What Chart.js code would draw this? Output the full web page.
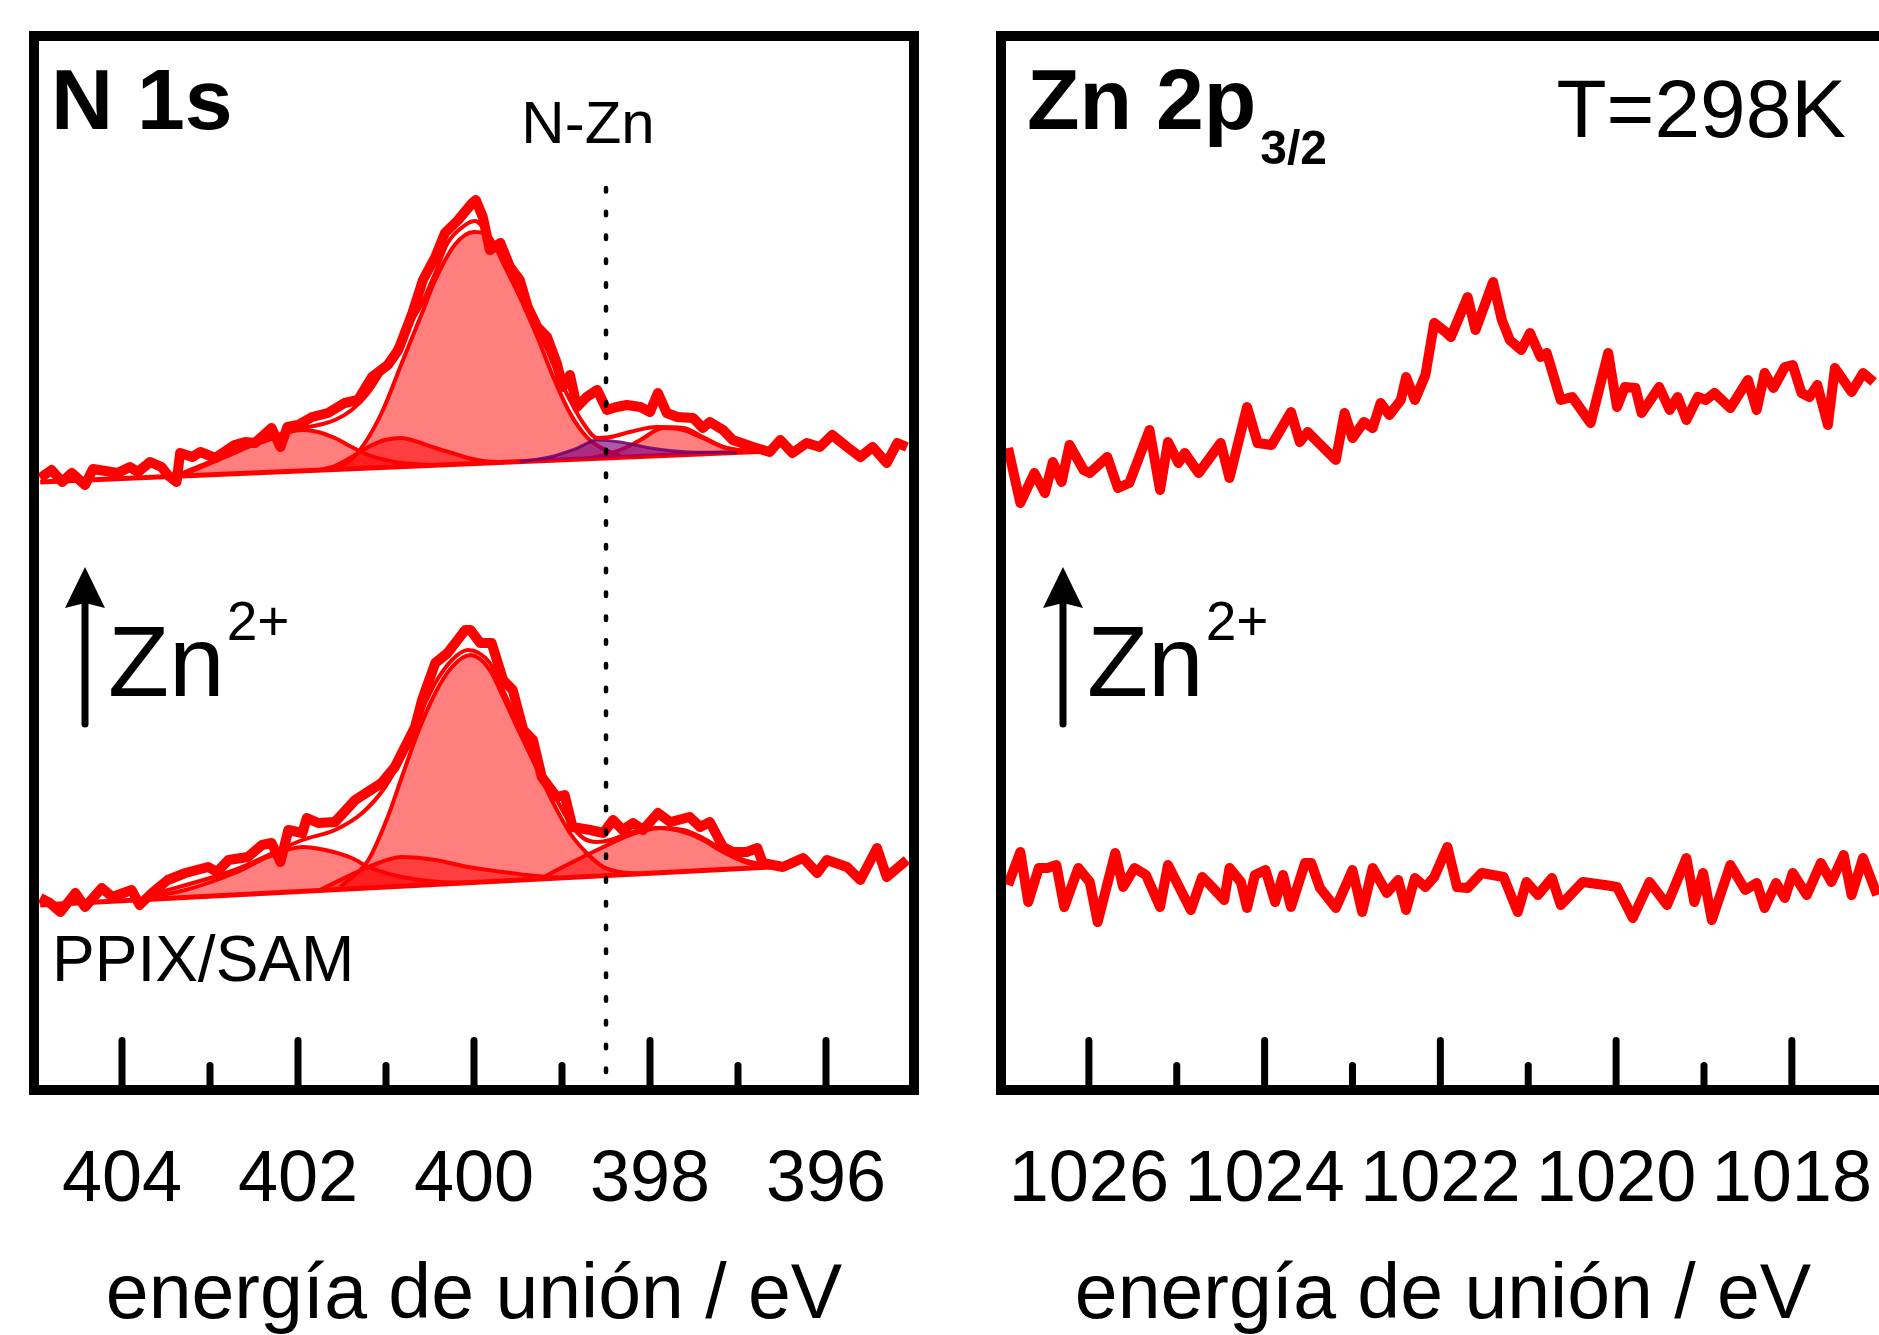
<!DOCTYPE html>
<html>
<head>
<meta charset="utf-8">
<script src="https://cdn.jsdelivr.net/npm/chart.js@4.4.1/dist/chart.umd.min.js"></script>
<style>
  html, body { margin: 0; padding: 0; background: #fff; overflow: hidden; }
  body { width: 1879px; height: 1335px; position: relative; }
  canvas { position: absolute; top: 0; }
  #n1s { left: 0; }
  #zn2p { left: 960px; }
</style>
</head>
<body>
<canvas id="n1s" width="960" height="1335"></canvas>
<canvas id="zn2p" width="980" height="1335"></canvas>
<script>
// ---- datos: [energia de union (eV), intensidad (u.a.)] ----

// N 1s despues de Zn2+ (espectro de arriba)
var n1sZnRaw = [[404.93,61.2],[404.80,62.0],[404.68,60.8],[404.57,61.7],[404.42,60.5],[404.33,62.1],[404.05,61.7],[403.91,62.3],[403.82,61.8],[403.68,62.8],[403.55,62.3],[403.48,61.5],[403.38,60.8],[403.34,63.7],[403.20,63.3],[403.11,63.8],[402.94,63.2],[402.72,64.5],[402.60,64.8],[402.49,64.7],[402.30,66.2],[402.20,64.3],[402.12,66.3],[402.00,66.5],[401.84,67.3],[401.66,67.7],[401.47,68.7],[401.32,69.0],[401.16,71.3],[400.98,72.5],[400.86,74.0],[400.70,77.7],[400.58,81.0],[400.44,83.3],[400.33,85.7],[400.18,87.0],[400.02,88.7],[399.98,89.0],[399.90,87.3],[399.82,84.0],[399.70,84.7],[399.59,82.3],[399.48,81.0],[399.39,78.3],[399.28,76.3],[399.17,75.3],[399.06,72.7],[398.99,70.3],[398.91,71.5],[398.83,68.3],[398.72,69.3],[398.60,70.0],[398.49,68.0],[398.38,68.3],[398.26,68.5],[398.11,68.3],[398.00,67.8],[397.91,69.7],[397.81,67.7],[397.69,67.3],[397.51,67.2],[397.40,66.2],[397.32,66.8],[397.17,66.0],[397.06,65.0],[396.83,64.3],[396.64,63.8],[396.52,65.0],[396.38,63.7],[396.22,64.7],[396.07,64.3],[395.93,65.5],[395.76,64.3],[395.61,63.3],[395.47,64.3],[395.31,62.7],[395.19,64.7],[395.08,64.3]];
var n1sZnEnvelope = [[403.34,61.6],[402.72,63.8],[402.34,65.0],[401.95,66.2],[401.77,66.5],[401.58,67.0],[401.39,68.0],[401.20,69.7],[401.01,72.3],[400.82,75.3],[400.70,77.0],[400.59,78.7],[400.44,81.7],[400.30,84.7],[400.10,86.5],[399.99,86.9],[399.85,85.7],[399.67,83.0],[399.48,80.0],[399.28,76.0],[399.17,74.0],[399.06,71.7],[398.91,69.0],[398.76,66.7],[398.60,65.2],[398.45,65.3],[398.23,65.8],[397.92,66.3],[397.62,66.2],[397.40,65.3],[397.17,64.3],[397.01,64.0],[396.75,63.9]];
var n1sZnMain = [[401.64,62.1],[401.41,62.9],[401.24,64.7],[401.05,67.7],[400.82,72.7],[400.59,77.7],[400.44,81.0],[400.22,84.5],[400.00,85.8],[399.82,85.3],[399.67,82.7],[399.48,79.3],[399.28,75.3],[399.10,71.3],[398.91,67.7],[398.72,65.3],[398.57,64.3],[398.34,63.4]];
var n1sZnHigh = [[403.34,61.4],[402.72,63.7],[402.34,65.2],[401.95,66.0],[401.77,65.8],[401.58,65.2],[401.39,64.3],[401.20,63.5],[401.01,63.0],[400.82,62.7],[400.50,62.5]];
var n1sZnMid = [[401.75,62.0],[401.58,62.4],[401.35,63.5],[401.20,64.3],[401.01,65.0],[400.82,65.2],[400.64,64.8],[400.44,64.2],[400.25,63.7],[400.07,63.2],[399.85,62.85],[399.59,62.8]];
var n1sZnLow = [[398.65,63.2],[398.34,64.0],[398.11,65.0],[397.85,66.2],[397.62,66.0],[397.40,65.2],[397.17,64.3],[397.01,64.0],[396.75,63.86]];
var n1sZnNZn = [[399.48,62.84],[399.14,63.3],[398.85,64.1],[398.60,65.0],[398.34,64.8],[398.00,64.2],[397.55,63.8],[397.01,63.76]];
var n1sZnBackground = [[404.93,60.8],[396.64,63.9]];

// N 1s PPIX/SAM (espectro de abajo)
var n1sSamRaw = [[404.93,19.2],[404.82,18.7],[404.70,17.8],[404.53,19.7],[404.42,18.3],[404.23,20.2],[404.11,19.3],[403.89,20.0],[403.80,18.5],[403.66,19.7],[403.48,21.0],[403.28,21.7],[403.02,22.3],[402.92,21.8],[402.79,23.0],[402.57,23.3],[402.41,24.5],[402.30,24.7],[402.20,22.8],[402.11,26.0],[401.95,25.7],[401.90,27.2],[401.77,26.7],[401.58,26.8],[401.35,29.0],[401.05,30.7],[400.90,32.3],[400.67,36.3],[400.59,39.0],[400.44,42.7],[400.30,43.7],[400.10,46.0],[400.04,46.0],[399.93,44.7],[399.80,44.7],[399.67,41.0],[399.56,40.0],[399.44,36.0],[399.33,35.0],[399.23,31.3],[399.06,29.3],[398.97,29.5],[398.88,26.3],[398.68,26.0],[398.53,25.7],[398.42,27.0],[398.31,26.0],[398.19,26.7],[398.08,26.0],[397.91,27.7],[397.77,26.8],[397.55,27.3],[397.43,26.3],[397.32,26.8],[397.17,24.3],[397.06,23.8],[396.90,23.8],[396.78,24.2],[396.72,22.7],[396.49,22.3],[396.26,23.2],[396.10,21.7],[395.99,23.0],[395.76,22.3],[395.61,21.0],[395.42,24.2],[395.31,21.3],[395.08,23.0]];
var n1sSamEnvelope = [[403.68,19.5],[402.72,22.0],[401.95,25.0],[401.58,26.0],[401.27,27.7],[401.01,30.3],[400.82,33.3],[400.70,35.7],[400.59,38.0],[400.44,40.7],[400.25,43.0],[400.07,44.0],[399.82,42.7],[399.67,40.0],[399.48,36.3],[399.28,32.7],[399.10,29.7],[398.91,26.7],[398.76,25.2],[398.60,24.8],[398.45,25.0],[398.23,25.7],[397.92,26.2],[397.62,26.0],[397.40,25.2],[397.17,24.0],[396.94,23.0],[396.64,22.4]];
var n1sSamMain = [[401.52,20.3],[401.20,23.0],[400.98,27.3],[400.82,31.3],[400.64,35.7],[400.44,39.7],[400.25,42.3],[400.04,43.5],[399.82,42.0],[399.67,39.3],[399.48,35.7],[399.28,32.0],[399.10,28.7],[398.91,25.7],[398.72,23.7],[398.53,22.3],[398.34,21.8],[398.11,21.62]];
var n1sSamHigh = [[403.68,19.3],[403.28,20.0],[402.72,21.7],[402.34,23.3],[401.95,24.3],[401.69,24.0],[401.39,23.2],[401.20,22.3],[400.82,21.3],[400.39,20.8],[400.04,20.74]];
var n1sSamMid = [[401.75,20.0],[401.20,22.3],[400.82,23.3],[400.44,23.0],[400.07,22.3],[399.67,21.8],[399.40,21.5],[399.02,21.21]];
var n1sSamLow = [[399.25,21.1],[398.99,22.3],[398.53,24.3],[398.23,25.5],[397.89,26.2],[397.58,25.7],[397.40,25.0],[397.17,23.8],[396.92,22.8],[396.64,22.3]];
var n1sSamBackground = [[404.93,18.5],[396.41,22.4]];

// Zn 2p3/2
var zn2pZnRaw = [[1026.92,64.2],[1026.78,58.7],[1026.62,61.7],[1026.50,59.7],[1026.41,62.8],[1026.31,60.8],[1026.22,64.5],[1026.06,62.0],[1025.99,61.7],[1025.79,63.3],[1025.67,60.2],[1025.54,60.7],[1025.31,66.0],[1025.19,60.0],[1025.10,64.8],[1024.98,62.7],[1024.91,63.7],[1024.75,61.7],[1024.50,64.7],[1024.40,61.2],[1024.20,68.3],[1024.08,64.7],[1023.92,64.5],[1023.70,67.8],[1023.60,64.8],[1023.51,65.8],[1023.19,63.0],[1023.09,67.7],[1023.00,65.2],[1022.87,66.8],[1022.77,66.2],[1022.68,68.7],[1022.58,67.5],[1022.45,69.0],[1022.39,71.3],[1022.29,69.0],[1022.17,71.5],[1022.07,76.7],[1021.94,75.8],[1021.88,75.3],[1021.69,79.3],[1021.60,76.0],[1021.40,80.8],[1021.30,77.0],[1021.21,75.0],[1021.08,74.0],[1020.98,75.7],[1020.86,73.3],[1020.79,73.7],[1020.63,69.0],[1020.50,69.3],[1020.29,66.7],[1020.09,73.7],[1019.99,68.3],[1019.90,70.3],[1019.78,70.2],[1019.71,67.7],[1019.51,70.3],[1019.39,68.0],[1019.30,69.3],[1019.20,67.0],[1019.07,69.3],[1018.98,69.0],[1018.88,69.7],[1018.70,68.2],[1018.50,71.0],[1018.40,68.0],[1018.31,71.7],[1018.21,70.2],[1018.08,72.3],[1017.99,72.5],[1017.89,69.7],[1017.80,69.3],[1017.71,70.5],[1017.59,66.5],[1017.51,72.2],[1017.32,69.8],[1017.19,71.7],[1017.07,70.8]];
var zn2pSamRaw = [[1026.92,20.5],[1026.78,23.8],[1026.69,18.8],[1026.57,22.2],[1026.47,22.2],[1026.37,22.5],[1026.28,18.3],[1026.12,22.2],[1025.99,20.8],[1025.90,16.8],[1025.70,23.7],[1025.61,20.3],[1025.48,22.2],[1025.35,21.5],[1025.19,18.3],[1025.10,22.5],[1024.84,18.0],[1024.71,21.3],[1024.62,20.5],[1024.46,19.0],[1024.40,22.2],[1024.27,20.8],[1024.20,18.2],[1024.11,21.5],[1023.99,22.0],[1023.88,18.8],[1023.79,21.5],[1023.70,18.3],[1023.54,22.7],[1023.47,22.7],[1023.37,20.2],[1023.19,18.2],[1023.00,22.0],[1022.89,17.8],[1022.77,22.2],[1022.61,19.7],[1022.48,21.0],[1022.39,18.0],[1022.29,21.2],[1022.17,20.3],[1022.07,21.3],[1021.92,24.3],[1021.81,20.3],[1021.69,20.2],[1021.53,21.7],[1021.28,21.3],[1021.12,17.8],[1021.02,20.8],[1020.89,19.5],[1020.73,21.2],[1020.63,18.5],[1020.38,20.8],[1020.13,20.5],[1019.99,20.3],[1019.81,17.2],[1019.62,20.8],[1019.42,18.5],[1019.20,23.2],[1019.11,18.8],[1019.01,21.7],[1018.91,17.0],[1018.70,22.5],[1018.53,20.0],[1018.40,20.7],[1018.31,18.2],[1018.18,20.7],[1018.08,19.2],[1017.99,21.7],[1017.83,19.5],[1017.67,22.7],[1017.55,20.8],[1017.41,23.5],[1017.32,19.5],[1017.19,23.2],[1017.03,19.5]];

var n1sTickLabels = [404, 402, 400, 398, 396];
var zn2pTickLabels = [1026, 1024, 1022, 1020, 1018];
var nZnEnergy = 398.5;

// ---- estilo ----
var RED = '#ff0000';
var SALMON = 'rgba(255, 0, 0, 0.5)';
var FONT = '"Liberation Sans", Arial, Helvetica, sans-serif';
Chart.defaults.font.family = FONT;
Chart.defaults.color = '#000';

function pts(arr) {
  return arr.map(function (p) { return {x: p[0], y: p[1]}; });
}
function rawLine(arr) {
  return {data: pts(arr), borderColor: RED, borderWidth: 10, pointRadius: 0, fill: false, borderJoinStyle: 'round'};
}
function fitLine(arr) {
  return {data: pts(arr), borderColor: RED, borderWidth: 4, pointRadius: 0, fill: false, cubicInterpolationMode: 'monotone'};
}
function bgLine(arr) {
  return {data: pts(arr), borderColor: RED, borderWidth: 5, pointRadius: 0, fill: false};
}
function component(arr, target, color, line) {
  return {data: pts(arr), borderColor: line || RED, borderWidth: line ? 3 : 4, pointRadius: 0,
    fill: {target: target}, backgroundColor: color || SALMON, cubicInterpolationMode: 'monotone'};
}

function xAxis(min, max, labels) {
  return {
    type: 'linear', reverse: true, min: min, max: max,
    grid: {display: false, drawTicks: false},
    border: {display: false},
    ticks: {
      stepSize: 1, autoSkip: false, maxRotation: 0, minRotation: 0, includeBounds: false,
      padding: 55, color: '#000', font: {size: 72, lineHeight: 1},
      callback: function (v) { return labels.indexOf(v) >= 0 ? String(v) : ''; }
    },
    title: {display: true, text: 'energía de unión / eV', color: '#000',
      font: {size: 77, lineHeight: 1}, padding: {top: 0, bottom: 0}},
    afterFit: function (s) {
      // altura fija del eje y sin margen lateral extra
      s.height = 245;
      s.paddingLeft = 0;
      s.paddingRight = 0;
    }
  };
}

// marco negro y marcas del eje hacia dentro
var frame = {
  id: 'frame',
  afterDatasetsDraw: function (chart) {
    var ctx = chart.ctx, a = chart.chartArea, x = chart.scales.x;
    ctx.save();
    ctx.strokeStyle = '#000';
    ctx.lineWidth = 7;
    ctx.lineCap = 'round';
    x.ticks.forEach(function (t) {
      var px = x.getPixelForValue(t.value);
      if (px < a.left + 30 || px > a.right - 30) return;
      var len = t.value % 2 === 0 ? 49.5 : 24.5;
      ctx.beginPath();
      ctx.moveTo(px, a.bottom);
      ctx.lineTo(px, a.bottom - len);
      ctx.stroke();
    });
    ctx.lineCap = 'butt';
    ctx.lineWidth = 10;
    ctx.strokeRect(a.left, a.top, a.right - a.left, a.bottom - a.top);
    ctx.restore();
  }
};

function text(ctx, str, x, y, size, weight, align) {
  ctx.font = (weight || 'normal') + ' ' + size + 'px ' + FONT;
  ctx.textAlign = align || 'left';
  ctx.textBaseline = 'alphabetic';
  ctx.fillText(str, x, y);
  return ctx.measureText(str).width;
}
function arrow(ctx, x, yTip, yBottom) {
  ctx.lineWidth = 7;
  ctx.lineCap = 'round';
  ctx.beginPath();
  ctx.moveTo(x, yBottom);
  ctx.lineTo(x, yTip + 30);
  ctx.stroke();
  ctx.beginPath();
  ctx.moveTo(x, yTip);
  ctx.lineTo(x - 20, yTip + 41);
  ctx.lineTo(x, yTip + 36);
  ctx.lineTo(x + 20, yTip + 41);
  ctx.closePath();
  ctx.fill();
}
function zinc(ctx, x, arrowX) {
  arrow(ctx, arrowX, 567, 724);
  var w = text(ctx, 'Zn', x, 696, 100);
  text(ctx, '2+', x + w + 2, 640, 55);
}

var n1sNotes = {
  id: 'n1sNotes',
  afterDraw: function (chart) {
    var ctx = chart.ctx, a = chart.chartArea;
    var px = chart.scales.x.getPixelForValue(nZnEnergy);
    ctx.save();
    ctx.fillStyle = '#000';
    ctx.strokeStyle = '#000';
    text(ctx, 'N 1s', a.left + 17, 129, 86, 'bold');
    text(ctx, 'N-Zn', px - 18, 143, 60, 'normal', 'center');
    ctx.lineWidth = 4.5;
    ctx.lineCap = 'round';
    ctx.setLineDash([3.5, 20.3]);
    ctx.beginPath();
    ctx.moveTo(px, a.top + 152);
    ctx.lineTo(px, a.bottom - 14);
    ctx.stroke();
    ctx.setLineDash([]);
    zinc(ctx, a.left + 74, a.left + 51);
    text(ctx, 'PPIX/SAM', a.left + 18, 981, 64);
    ctx.restore();
  }
};

var zn2pNotes = {
  id: 'zn2pNotes',
  afterDraw: function (chart) {
    var ctx = chart.ctx, a = chart.chartArea;
    ctx.save();
    ctx.fillStyle = '#000';
    ctx.strokeStyle = '#000';
    var w = text(ctx, 'Zn 2p', a.left + 26, 129, 86, 'bold');
    text(ctx, '3/2', a.left + 26 + w + 4, 164, 48, 'bold');
    text(ctx, 'T=298K', a.left + 845, 137, 82, 'normal', 'right');
    zinc(ctx, a.left + 86, a.left + 62);
    ctx.restore();
  }
};

var common = {
  responsive: false,
  animation: false,
  events: [],
  plugins: {legend: {display: false}, tooltip: {enabled: false}, filler: {propagate: false}}
};

// indices 13 y 14 = fondos
new Chart(document.getElementById('n1s'), {
  type: 'line',
  data: {
    datasets: [
      rawLine(n1sZnRaw),
      rawLine(n1sSamRaw),
      fitLine(n1sZnEnvelope),
      fitLine(n1sSamEnvelope),
      component(n1sZnNZn, 13, 'rgba(128, 0, 128, 0.65)', 'rgba(110, 0, 110, 0.85)'),
      component(n1sZnMain, 13),
      component(n1sZnHigh, 13),
      component(n1sZnMid, 13),
      component(n1sZnLow, 13),
      component(n1sSamMain, 14),
      component(n1sSamHigh, 14),
      component(n1sSamMid, 14),
      component(n1sSamLow, 14),
      bgLine(n1sZnBackground),
      bgLine(n1sSamBackground)
    ]
  },
  options: Object.assign({}, common, {
    layout: {padding: {left: 34, right: 46, top: 36, bottom: 0}},
    scales: {
      x: xAxis(395, 405, n1sTickLabels),
      y: {display: false, min: 0, max: 105.4}
    }
  }),
  plugins: [frame, n1sNotes]
});

new Chart(document.getElementById('zn2p'), {
  type: 'line',
  data: {
    datasets: [rawLine(zn2pZnRaw), rawLine(zn2pSamRaw)]
  },
  options: Object.assign({}, common, {
    layout: {padding: {left: 41, right: 55, top: 36, bottom: 0}},
    scales: {
      x: xAxis(1016.94, 1027, zn2pTickLabels),
      y: {display: false, min: 0, max: 105.4}
    }
  }),
  plugins: [frame, zn2pNotes]
});
</script>
</body>
</html>
